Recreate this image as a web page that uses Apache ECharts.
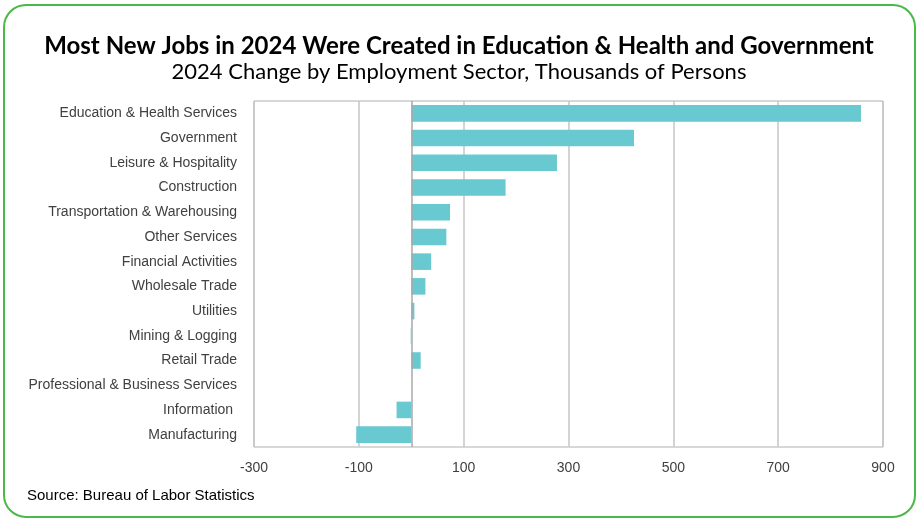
<!DOCTYPE html>
<html>
<head>
<meta charset="utf-8">
<script src="https://cdn.jsdelivr.net/npm/echarts@6/dist/echarts.min.js"></script>
<style>html,body{margin:0;padding:0;background:#fff;}#c{width:918px;height:518px;}</style>
</head>
<body>
<div id="c"></div>
<script>
const categories = ["Education & Health Services","Government","Leisure & Hospitality","Construction","Transportation & Warehousing","Other Services","Financial Activities","Wholesale Trade","Utilities","Mining & Logging","Retail Trade","Professional & Business Services","Information ","Manufacturing"];
const values = [858, 425, 278, 180, 74, 67, 38, 27, 6, -1, 18, 0, -28, -105];
const xTicks = { min: -300, max: 900, interval: 200 };
const titleText = "Most New Jobs in 2024 Were Created in Education & Health and Government";
const subtitleText = "2024 Change by Employment Sector, Thousands of Persons";
const sourceText = "Source: Bureau of Labor Statistics";

const chart = echarts.init(document.getElementById('c'), null, {renderer: 'canvas'});
chart.setOption({
  animation: false,
  backgroundColor: '#fff',
  title: [
    {text: titleText, left: 'center', top: 34, padding: 0, textStyle: {fontFamily: 'Lato', fontWeight: 'bold', fontSize: 24, color: '#000'}},
    {text: subtitleText, left: 'center', top: 61, padding: 0, textStyle: {fontFamily: 'Lato', fontWeight: 'normal', fontSize: 22, color: '#000'}},
    {text: sourceText, left: 27, top: 488, padding: 0, textStyle: {fontFamily: 'Liberation Sans', fontWeight: 'normal', fontSize: 15, color: '#000'}}
  ],
  graphic: [{
    type: 'rect', silent: true,
    shape: {x: 4, y: 5, width: 911, height: 512, r: 22},
    style: {fill: 'none', stroke: '#4cb848', lineWidth: 2}
  }],
  grid: {left: 254, right: 35, top: 101, bottom: 71, show: true, borderColor: '#b0b0b0', borderWidth: 1},
  xAxis: {
    type: 'value', min: xTicks.min, max: xTicks.max, interval: xTicks.interval,
    axisLine: {show: false}, axisTick: {show: false},
    axisLabel: {fontFamily: 'Liberation Sans', fontSize: 14, color: '#404040', margin: 14},
    splitLine: {show: true, lineStyle: {color: '#c6c6c6', width: 1.5}}
  },
  yAxis: {
    type: 'category', data: categories, inverse: true,
    axisLine: {show: false}, axisTick: {show: false},
    axisLabel: {fontFamily: 'Liberation Sans', fontSize: 14, color: '#404040', margin: 17}
  },
  series: [{
    type: 'bar', data: values, barCategoryGap: '33%',
    itemStyle: {color: '#69c9d0'},
    markLine: {silent: true, symbol: 'none', label: {show: false},
      lineStyle: {color: '#a8a8a8', width: 1.5, type: 'solid'},
      data: [{xAxis: 0}]}
  }]
});
</script>
</body>
</html>
